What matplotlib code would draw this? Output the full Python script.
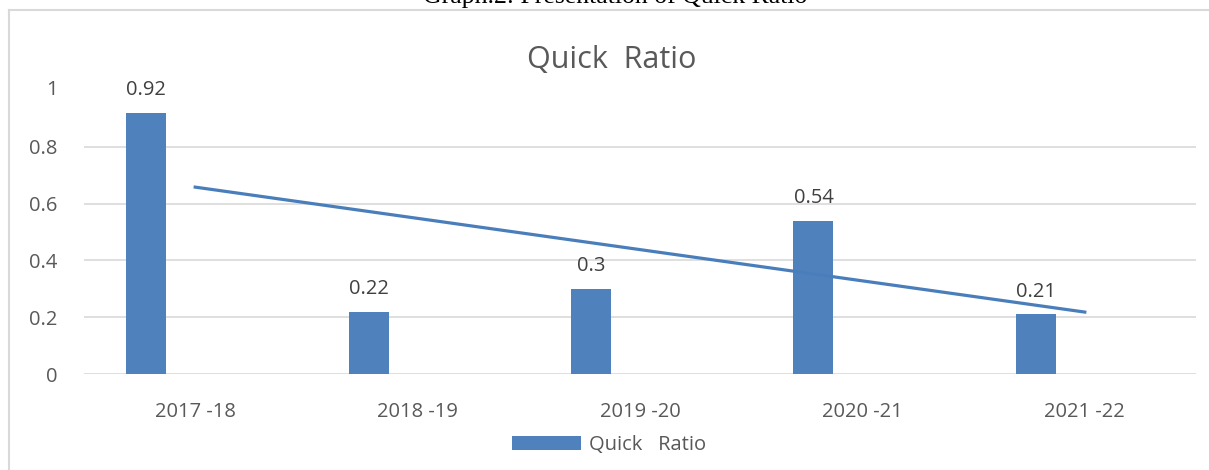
import matplotlib
matplotlib.use("Agg")
import matplotlib.pyplot as plt
import numpy as np
from matplotlib.lines import Line2D

years = ["2017 -18", "2018 -19", "2019 -20", "2020 -21", "2021 -22"]
quick_ratio = [0.92, 0.22, 0.3, 0.54, 0.21]
label_text = ["0.92", "0.22", "0.3", "0.54", "0.21"]
y_ticks = [0, 0.2, 0.4, 0.6, 0.8, 1]
y_tick_labels = ["0", "0.2", "0.4", "0.6", "0.8", "1"]

plt.rcParams["font.family"] = ["Open Sans", "DejaVu Sans"]
BLUE = "#4f81bd"
GREY_TXT = "#595959"
GRID = "#d9d9d9"

W, H = 1209, 470
fig = plt.figure(figsize=(W / 100, H / 100), dpi=100)
ax = fig.add_axes([84 / W, 1 - 374 / H, (1196 - 84) / W, (374 - 90) / H])

x = np.arange(len(years))
ax.bar(x - 0.22, quick_ratio, width=0.18, color=BLUE, label="Quick   Ratio", zorder=3)
for xi, v, t in zip(x, quick_ratio, label_text):
    ax.text(xi - 0.22, v + 0.045, t, ha="center", va="bottom", fontsize=14.5, color="#404040")

# linear trendline over the categories
slope, icept = np.polyfit(x + 1, quick_ratio, 1)
ax.plot([x[0], x[-1]], [slope * 1 + icept, slope * 5 + icept], color="#4a7ebb", lw=2.3, zorder=4)

ax.set_xlim(-0.5, len(years) - 0.5)
ax.set_ylim(0, 1)
ax.set_yticks(y_ticks[:-1])
ax.set_yticklabels(y_tick_labels[:-1])
ax.set_xticks(x)
ax.set_xticklabels(years)
ax.tick_params(axis="both", length=0, labelsize=14.5, colors=GREY_TXT)
ax.tick_params(axis="x", pad=20)
ax.tick_params(axis="y", pad=19)
ax.grid(axis="y", color=GRID, lw=1.2, zorder=0)
for s in ax.spines.values():
    s.set_visible(False)
# lone "1" label sits above the plot area
ax.text(-0.5 - 26 / 222.4, 1.0, y_tick_labels[-1], ha="right", va="center",
        fontsize=14.5, color=GREY_TXT)

fig.text(612 / W, 1 - 60 / H, "Quick  Ratio", ha="center", va="center", fontsize=22, color=GREY_TXT)

leg = fig.legend(loc="center", bbox_to_anchor=(609 / W, 1 - 445 / H), frameon=False,
                 fontsize=14.5, handlelength=3.4, handleheight=0.7, handletextpad=0.4)
for t in leg.get_texts():
    t.set_color(GREY_TXT)

# chart frame (partially cropped) and caption above it
fig.add_artist(Line2D([9 / W, 1.0], [1 - 10 / H] * 2, color=GRID, lw=1.5))
fig.add_artist(Line2D([9 / W] * 2, [0, 1 - 10 / H], color=GRID, lw=1.5))
fig.text(615 / W, 1 - 3 / H, "Graph.2: Presentation of Quick Ratio", ha="center", va="baseline",
         fontsize=18.5, family="Liberation Serif", color="black")

fig.savefig("out.png", dpi=100)
